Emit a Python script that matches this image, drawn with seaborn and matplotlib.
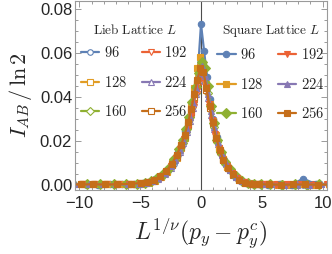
import matplotlib
matplotlib.use("Agg")
import matplotlib.pyplot as plt
import numpy as np
import pandas as pd
import seaborn as sns
from matplotlib.ticker import MultipleLocator

sns.set_style("ticks")
plt.rcParams["font.family"] = ["Liberation Sans", "DejaVu Sans"]
plt.rcParams["mathtext.fontset"] = "cm"

SIZES = [96, 128, 160, 192, 224, 256]
COLORS = ["#5E81B5", "#E19C24", "#8FB032", "#EB6235", "#8778B3", "#C56E1A"]
MARKERS = ["o", "s", "D", "v", "^", "s"]

# scaled variable L^{1/nu}(p_y - p_y^c), per system size
x_96 = [-10.6, -9.5, -8.5, -7.5, -6.5, -5.5, -4.75, -4.25, -3.75, -3.25, -2.75, -2.25, -1.9, -1.6, -1.3, -1.0, -0.75, -0.5, -0.25, 0.0,
        0.25, 0.5, 0.75, 1.0, 1.3, 1.6, 1.9, 2.25, 2.75, 3.25, 3.75, 4.25, 4.75, 5.5, 6.5, 7.5, 8.4, 9.5, 10.6]
x_128 = [-10.7, -9.7, -8.7, -7.7, -6.7, -5.7, -4.9, -4.3, -3.8, -3.3, -2.8, -2.35, -2.0, -1.65, -1.35, -1.05, -0.8, -0.55, -0.3, -0.05,
         0.2, 0.45, 0.7, 0.95, 1.2, 1.5, 1.8, 2.15, 2.6, 3.1, 3.6, 4.1, 4.7, 5.4, 6.3, 7.3, 8.3, 9.3, 10.5]
x_160 = [-10.5, -9.4, -8.3, -7.2, -6.2, -5.3, -4.6, -4.1, -3.6, -3.1, -2.65, -2.2, -1.8, -1.5, -1.2, -0.95, -0.7, -0.45, -0.2, 0.05,
         0.3, 0.55, 0.8, 1.05, 1.35, 1.65, 2.0, 2.35, 2.85, 3.35, 3.85, 4.35, 4.9, 5.7, 6.7, 7.7, 8.7, 9.7, 10.7]
x_192 = [-10.8, -9.8, -8.8, -7.8, -6.8, -5.9, -5.0, -4.4, -3.9, -3.4, -2.9, -2.45, -2.05, -1.7, -1.4, -1.1, -0.85, -0.6, -0.35, -0.1,
         0.15, 0.4, 0.65, 0.9, 1.15, 1.45, 1.75, 2.1, 2.55, 3.0, 3.5, 4.0, 4.6, 5.3, 6.2, 7.1, 8.1, 9.1, 10.4]
x_224 = [-10.4, -9.2, -8.1, -7.0, -6.0, -5.1, -4.55, -4.0, -3.5, -3.0, -2.5, -2.1, -1.75, -1.45, -1.15, -0.9, -0.65, -0.4, -0.15, 0.1,
         0.35, 0.6, 0.85, 1.1, 1.4, 1.7, 2.05, 2.4, 2.9, 3.4, 3.9, 4.45, 5.0, 5.8, 6.8, 7.9, 8.9, 9.9, 10.8]
x_256 = [-10.9, -9.9, -8.9, -7.9, -6.9, -5.8, -4.95, -4.35, -3.85, -3.35, -2.85, -2.4, -2.0, -1.65, -1.35, -1.05, -0.8, -0.55, -0.3, -0.05,
         0.2, 0.45, 0.7, 0.95, 1.25, 1.55, 1.85, 2.2, 2.65, 3.15, 3.65, 4.2, 4.8, 5.6, 6.6, 7.6, 8.6, 9.6, 10.9]

# I_AB / ln 2, Lieb lattice
lieb_96 = [0.0003, 0.0002, 0.0003, 0.0004, 0.0003, 0.0004, 0.0008, 0.0013, 0.0021, 0.0037, 0.0062, 0.0098, 0.0135, 0.0178, 0.0225, 0.0285, 0.0345, 0.041, 0.047, 0.052,
           0.049, 0.043, 0.035, 0.027, 0.020, 0.0148, 0.0105, 0.0075, 0.0042, 0.0021, 0.0011, 0.0006, 0.0004, 0.0003, 0.0002, 0.0003, 0.0002, 0.0003, 0.0002]
lieb_128 = [0.0004, 0.0003, 0.0003, 0.0004, 0.0005, 0.0004, 0.0007, 0.0012, 0.0020, 0.0036, 0.0060, 0.0092, 0.0125, 0.0170, 0.0215, 0.0272, 0.0330, 0.0395, 0.0465, 0.0535,
            0.0520, 0.0445, 0.0365, 0.0290, 0.0225, 0.0165, 0.0118, 0.0082, 0.0050, 0.0026, 0.0013, 0.0007, 0.0004, 0.0003, 0.0003, 0.0002, 0.0003, 0.0002, 0.0003]
lieb_160 = [0.0004, 0.0003, 0.0004, 0.0003, 0.0004, 0.0006, 0.0010, 0.0016, 0.0027, 0.0046, 0.0072, 0.0108, 0.0150, 0.0192, 0.0240, 0.0295, 0.0355, 0.0420, 0.0485, 0.0530,
            0.0495, 0.0420, 0.0340, 0.0265, 0.0195, 0.0142, 0.0098, 0.0068, 0.0038, 0.0019, 0.0010, 0.0006, 0.0004, 0.0003, 0.0003, 0.0002, 0.0003, 0.0002, 0.0003]
lieb_192 = [0.0003, 0.0003, 0.0004, 0.0003, 0.0003, 0.0004, 0.0006, 0.0011, 0.0018, 0.0031, 0.0052, 0.0082, 0.0115, 0.0155, 0.0198, 0.0248, 0.0300, 0.0355, 0.0415, 0.0465,
            0.0480, 0.0430, 0.0355, 0.0285, 0.0225, 0.0165, 0.0120, 0.0085, 0.0054, 0.0030, 0.0015, 0.0008, 0.0004, 0.0003, 0.0003, 0.0002, 0.0003, 0.0003, 0.0002]
lieb_224 = [0.0003, 0.0004, 0.0003, 0.0003, 0.0004, 0.0006, 0.0010, 0.0017, 0.0029, 0.0050, 0.0080, 0.0112, 0.0150, 0.0192, 0.0240, 0.0292, 0.0350, 0.0415, 0.0475, 0.0510,
            0.0470, 0.0395, 0.0320, 0.0255, 0.0188, 0.0138, 0.0096, 0.0067, 0.0037, 0.0019, 0.0010, 0.0005, 0.0004, 0.0003, 0.0003, 0.0002, 0.0003, 0.0003, 0.0002]
lieb_256 = [0.0003, 0.0004, 0.0003, 0.0004, 0.0004, 0.0005, 0.0008, 0.0013, 0.0021, 0.0036, 0.0060, 0.0092, 0.0128, 0.0172, 0.0218, 0.0275, 0.0332, 0.0398, 0.0462, 0.0515,
            0.0500, 0.0430, 0.0352, 0.0280, 0.0210, 0.0155, 0.0112, 0.0078, 0.0048, 0.0025, 0.0012, 0.0006, 0.0004, 0.0003, 0.0003, 0.0002, 0.0003, 0.0003, 0.0002]

# I_AB / ln 2, square lattice
square_96 = [0.0003, 0.0003, 0.0002, 0.0003, 0.0004, 0.0003, 0.0009, 0.0016, 0.0026, 0.0045, 0.0072, 0.0110, 0.0150, 0.0195, 0.0245, 0.031, 0.037, 0.044, 0.052, 0.073,
             0.061, 0.049, 0.039, 0.030, 0.022, 0.0160, 0.0115, 0.0078, 0.0045, 0.0022, 0.0010, 0.0005, 0.0003, 0.0002, 0.0003, 0.0002, 0.0030, 0.0003, 0.0002]
square_128 = [0.0003, 0.0004, 0.0003, 0.0003, 0.0004, 0.0005, 0.0008, 0.0014, 0.0023, 0.0040, 0.0066, 0.0100, 0.0135, 0.0180, 0.0228, 0.0290, 0.0355, 0.0440, 0.0530, 0.0580,
              0.0540, 0.0460, 0.0370, 0.0292, 0.0228, 0.0168, 0.0120, 0.0084, 0.0052, 0.0027, 0.0013, 0.0006, 0.0004, 0.0003, 0.0002, 0.0003, 0.0003, 0.0002, 0.0003]
square_160 = [0.0003, 0.0004, 0.0003, 0.0004, 0.0005, 0.0007, 0.0012, 0.0019, 0.0031, 0.0052, 0.0080, 0.0118, 0.0162, 0.0205, 0.0255, 0.0310, 0.0375, 0.0445, 0.0510, 0.0560,
              0.0530, 0.0450, 0.0360, 0.0280, 0.0205, 0.0150, 0.0104, 0.0072, 0.0040, 0.0020, 0.0010, 0.0005, 0.0003, 0.0003, 0.0002, 0.0003, 0.0002, 0.0003, 0.0002]
square_192 = [0.0004, 0.0003, 0.0003, 0.0004, 0.0004, 0.0005, 0.0008, 0.0013, 0.0021, 0.0035, 0.0057, 0.0088, 0.0122, 0.0163, 0.0208, 0.0260, 0.0312, 0.0370, 0.0425, 0.0480,
              0.0500, 0.0445, 0.0370, 0.0295, 0.0232, 0.0170, 0.0124, 0.0088, 0.0055, 0.0031, 0.0015, 0.0007, 0.0004, 0.0003, 0.0002, 0.0003, 0.0003, 0.0002, 0.0003]
square_224 = [0.0004, 0.0003, 0.0004, 0.0004, 0.0003, 0.0007, 0.0011, 0.0019, 0.0032, 0.0054, 0.0086, 0.0120, 0.0160, 0.0204, 0.0255, 0.0310, 0.0372, 0.0440, 0.0505, 0.0540,
              0.0495, 0.0415, 0.0335, 0.0265, 0.0195, 0.0142, 0.0099, 0.0068, 0.0038, 0.0019, 0.0009, 0.0005, 0.0003, 0.0003, 0.0002, 0.0003, 0.0002, 0.0003, 0.0003]
square_256 = [0.0004, 0.0003, 0.0004, 0.0003, 0.0004, 0.0006, 0.0009, 0.0015, 0.0024, 0.0040, 0.0065, 0.0098, 0.0135, 0.0180, 0.0228, 0.0285, 0.0345, 0.0412, 0.0478, 0.0530,
              0.0515, 0.0440, 0.0360, 0.0285, 0.0214, 0.0158, 0.0114, 0.0080, 0.0049, 0.0025, 0.0012, 0.0006, 0.0004, 0.0003, 0.0002, 0.0003, 0.0003, 0.0002, 0.0003]

X_BY_SIZE = [x_96, x_128, x_160, x_192, x_224, x_256]
LIEB = [lieb_96, lieb_128, lieb_160, lieb_192, lieb_224, lieb_256]
SQUARE = [square_96, square_128, square_160, square_192, square_224, square_256]

fig = plt.figure(figsize=(3.32, 2.54), dpi=100)
ax = fig.add_axes([75 / 332, 64 / 254, 252 / 332, 189 / 254])

ax.axvline(0, color="#4d4d4d", lw=0.8, zorder=1)

for ys, open_marker in [(LIEB, True), (SQUARE, False)]:
    for size, xs, y, color, marker in zip(SIZES, X_BY_SIZE, ys, COLORS, MARKERS):
        df = pd.DataFrame({"x": xs, "y": y})
        sns.lineplot(
            data=df, x="x", y="y", ax=ax, sort=False, estimator=None,
            color=color, lw=1.6, marker=marker,
            markersize=4.0 if open_marker else 4.6,
            markerfacecolor="white" if open_marker else color,
            markeredgecolor=color, markeredgewidth=0.8,
            label=f"${size}$", zorder=2,
        )

ax.set_xlim(-10.37, 10.37)
ax.set_ylim(-0.0022, 0.0835)
ax.xaxis.set_major_locator(MultipleLocator(5))
ax.xaxis.set_minor_locator(MultipleLocator(1))
ax.yaxis.set_major_locator(MultipleLocator(0.02))
ax.yaxis.set_minor_locator(MultipleLocator(0.005))
ax.yaxis.set_major_formatter(matplotlib.ticker.FormatStrFormatter("%.2f"))

frame_gray = "#9a9a9a"
for sp in ax.spines.values():
    sp.set_color(frame_gray)
    sp.set_linewidth(0.8)
ax.tick_params(which="both", direction="in", top=True, right=True, color=frame_gray, labelsize=12, width=0.7)
ax.tick_params(which="major", length=4)
ax.tick_params(which="minor", length=2)
ax.tick_params(axis="x", pad=4)
ax.tick_params(axis="y", pad=2)

ax.set_xlabel(r"$L^{1/\nu}(p_y-p_y^c)$", fontsize=17, labelpad=3)
ax.set_ylabel(r"$I_{AB}\,/\,\ln 2$", fontsize=16, labelpad=4)

handles, labels = ax.get_legend_handles_labels()
leg_kw = dict(ncol=2, frameon=False, fontsize=10.5, handlelength=1.25,
              handletextpad=0.3, columnspacing=1.0, labelspacing=1.0, borderpad=0, borderaxespad=0)
leg1 = ax.legend(handles[:6], labels[:6], loc="upper left", bbox_to_anchor=(0.024, 0.884),
                 title=r"$\mathrm{Lieb\ Lattice}\ L$", title_fontsize=9.5, **leg_kw)
leg1._legend_box.sep = 6
ax.add_artist(leg1)
leg2 = ax.legend(handles[6:], labels[6:], loc="upper left", bbox_to_anchor=(0.565, 0.884),
                 title=r"$\mathrm{Square\ Lattice}\ L$", title_fontsize=9.5, **leg_kw)
leg2._legend_box.sep = 6

fig.savefig("out.png", dpi=100)
